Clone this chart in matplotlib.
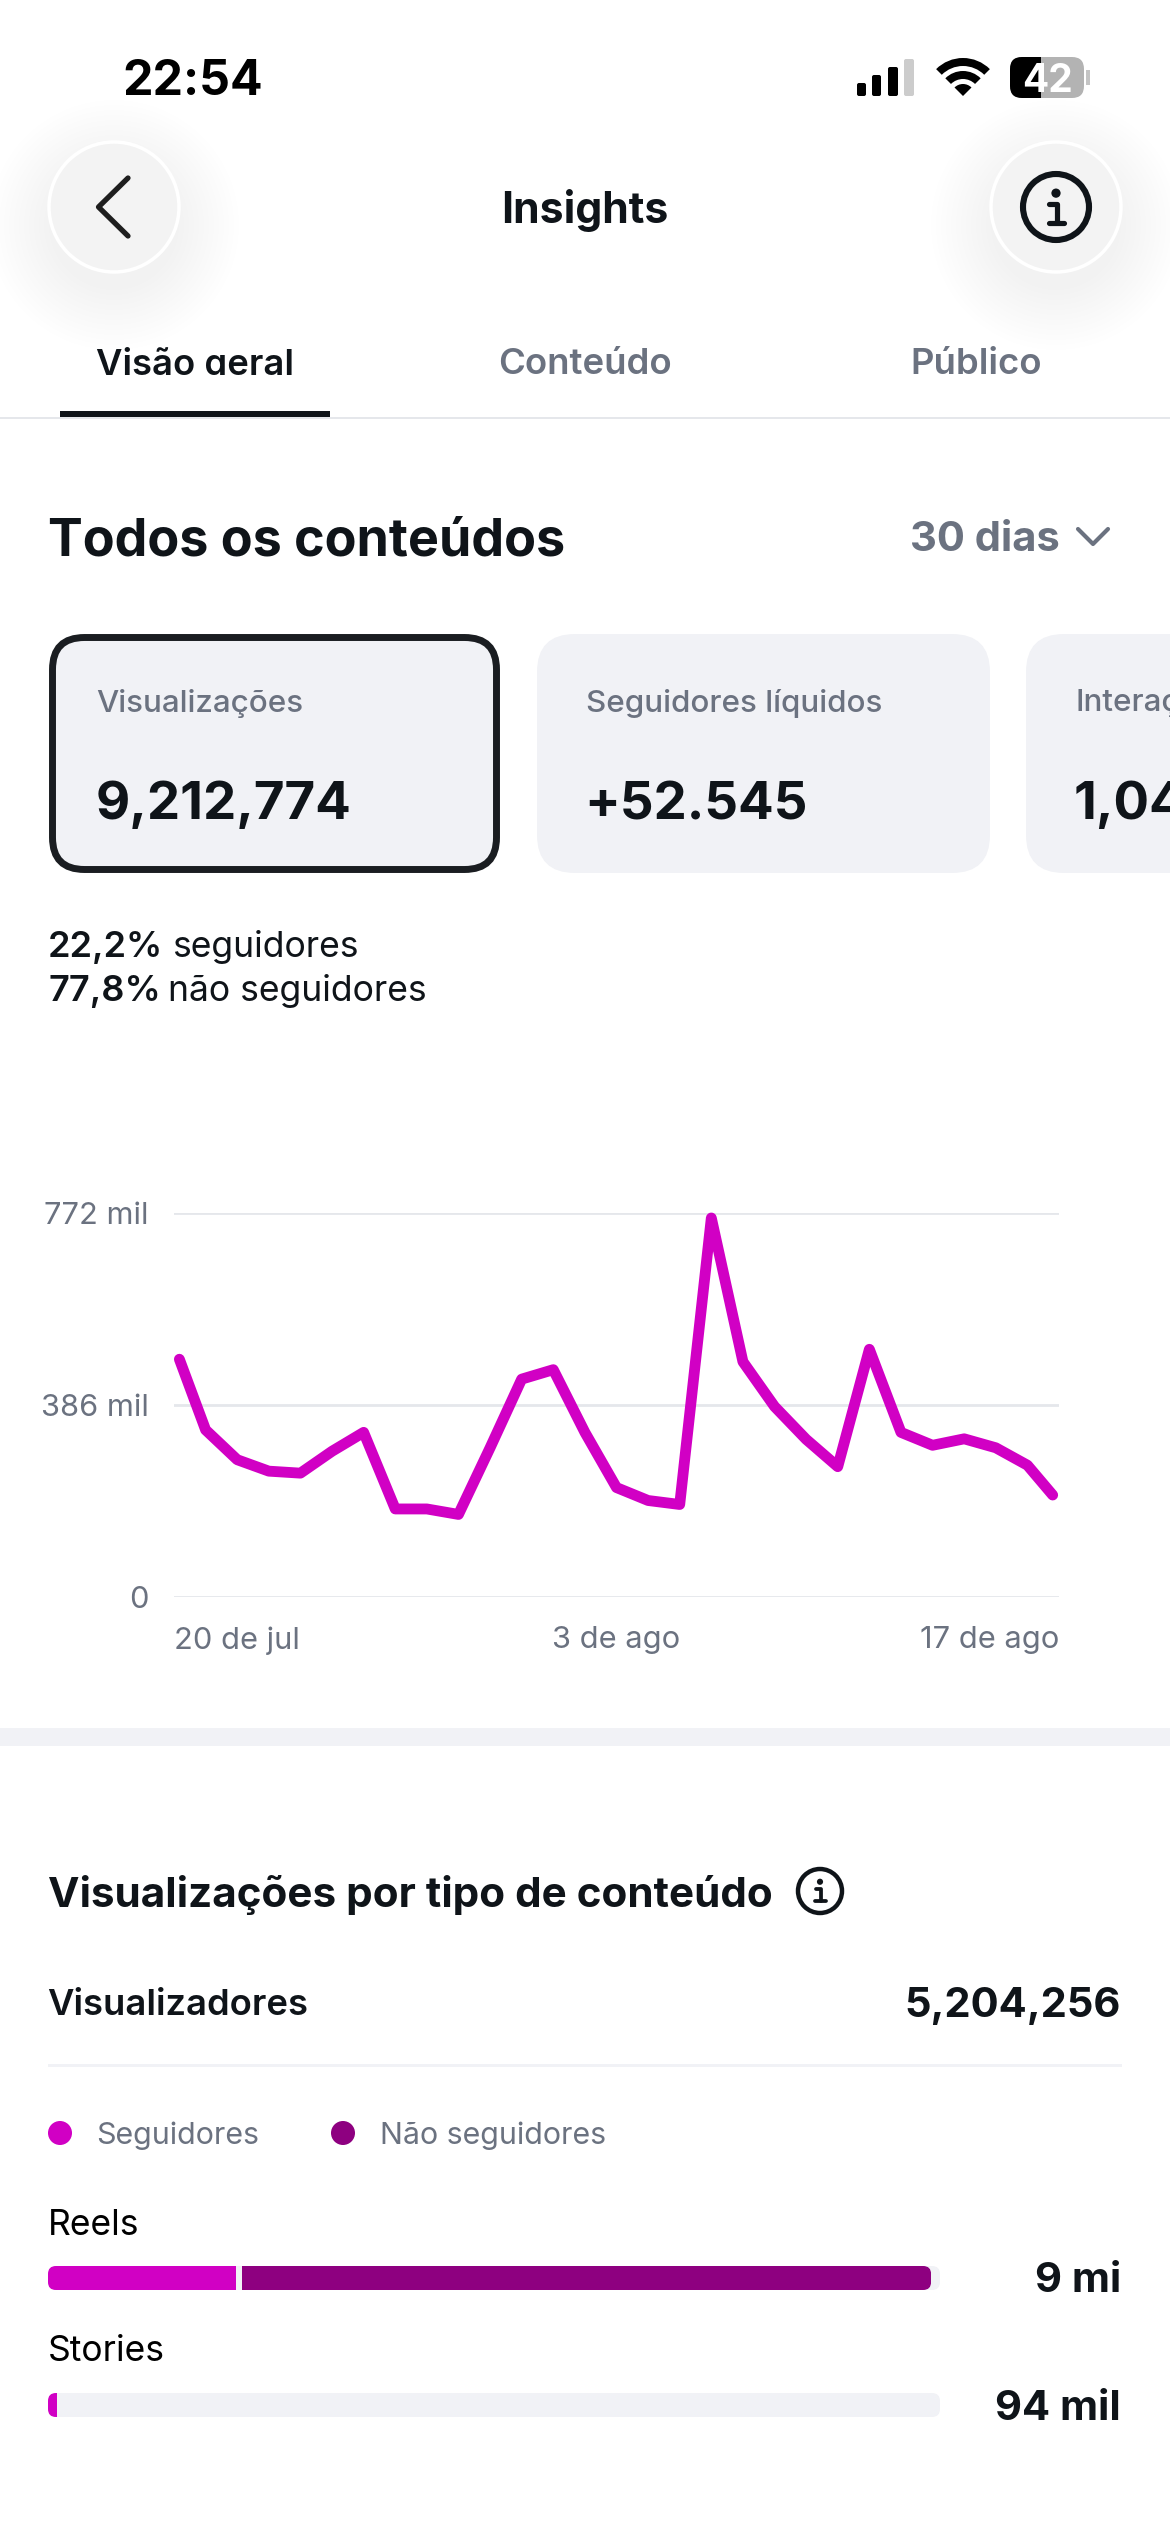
import matplotlib
matplotlib.use("Agg")
import matplotlib.pyplot as plt
from matplotlib.patches import Circle, FancyBboxPatch, Rectangle, Wedge

# --- Data ---
# the drawn line stops a little short of both axis ends, hence the first and last day
days = [0.17] + list(range(1, 28)) + [27.8]
views_k = [478, 336, 276, 253, 249, 293, 331, 177, 177, 166, 300, 438, 457, 331, 220,
           194, 186, 762, 473, 383, 317, 262, 498, 331, 305, 318, 300, 265, 205]
y_ticks = [0, 386, 772]
y_tick_labels = ["0", "386 mil", "772 mil"]
x_ticks = [0, 14, 28]
x_tick_labels = ["20 de jul", "3 de ago", "17 de ago"]

bar_names = ["Reels", "Stories"]
bar_followers = [21.1, 1.0]
bar_non_followers = [77.2, 0.0]
bar_totals = ["9 mi", "94 mil"]
legend_names = ["Seguidores", "Não seguidores"]

INK = "#0f1419"
GREY = "#6b7280"
LIGHT = "#f1f2f6"
RULE = "#e5e7eb"
MAGENTA = "#d100c4"
PURPLE = "#8e0080"

plt.rcParams["font.family"] = ["Inter", "DejaVu Sans"]

fig = plt.figure(figsize=(11.7, 25.32), dpi=100)

# page layer works in screenshot pixels
page = fig.add_axes([0, 0, 1, 1])
page.set_xlim(0, 1170)
page.set_ylim(2532, 0)
page.axis("off")


def label(x, y, s, size, color=INK, weight="normal", ha="left"):
    return page.text(x, y, s, fontsize=size, color=color, fontweight=weight, ha=ha, va="center_baseline")


def round_box(x, y, w, h, r, fc, ec="none", lw=0):
    p = FancyBboxPatch((x + r, y + r), w - 2 * r, h - 2 * r, boxstyle=f"round,pad={r},rounding_size={r}",
                       fc=fc, ec=ec, lw=lw)
    page.add_patch(p)
    return p


def info_icon(cx, cy, r, lw):
    page.add_patch(Circle((cx, cy), r, fc="none", ec=INK, lw=lw))
    page.add_patch(Circle((cx, cy - r * 0.42), r * 0.14, fc=INK, ec="none"))
    page.plot([cx - r * 0.2, cx + r * 0.03, cx + r * 0.03], [cy - r * 0.1, cy - r * 0.1, cy + r * 0.45],
              color=INK, lw=lw * 0.85, solid_capstyle="round", solid_joinstyle="round")
    page.plot([cx - r * 0.22, cx + r * 0.25], [cy + r * 0.47, cy + r * 0.47], color=INK, lw=lw * 0.85,
              solid_capstyle="round")


# --- Status bar ---
label(122, 77, "22:54", 34.8, "black", "bold")
for x0, x1, top, col in [(857, 866, 83, "black"), (872, 881, 75, "black"), (888, 898, 67, "black"),
                         (904, 914, 59, "#cccccc")]:
    page.add_patch(FancyBboxPatch((x0 + 2, top + 2), x1 - x0 - 4, 96 - top - 4, boxstyle="round,pad=2,rounding_size=2",
                                  fc=col, ec="none"))
page.add_patch(Wedge((963, 96), 38, 225, 315, width=8, fc="black", ec="none"))
page.add_patch(Wedge((963, 96), 25, 225, 315, width=8, fc="black", ec="none"))
page.add_patch(Wedge((963, 96), 12, 225, 315, fc="black", ec="none"))
page.add_patch(Rectangle((1086, 70), 4, 15, fc="#c4c4c4", ec="none"))
batt = round_box(1010, 57, 74, 41, 12, "#b3b3b3")
batt_dark = Rectangle((1010, 57), 31, 41, fc="black", ec="none")
page.add_patch(batt_dark)
batt_dark.set_clip_path(batt)
label(1047, 78, "42", 28, "white", "bold", ha="center")

# --- Header: soft shadows, buttons, title ---
for cx in (114, 1056):
    for rad in range(125, 64, -5):
        page.add_patch(Circle((cx, 225), rad, fc="black", ec="none", alpha=0.004))
    page.add_patch(Circle((cx, 207), 65, fc="#f3f3f3", ec="white", lw=2.5))
page.plot([128, 98.5, 128], [178, 207, 236], color="#1e1e1e", lw=3.8, solid_capstyle="round",
          solid_joinstyle="round")
info_icon(1056, 207, 33, 4.4)
label(585, 206, "Insights", 30.8, INK, "bold", ha="center")

# --- Tabs ---
tab = label(96, 361, "Visão geral", 26.2, INK, "semibold")
tab.set_clip_on(True)
tab.set_clip_path(Rectangle((0, 300), 1170, 75, transform=page.transData))
label(498, 361, "Conteúdo", 26.3, GREY, "semibold")
label(910, 361, "Público", 26.3, GREY, "semibold")
page.add_patch(Rectangle((60, 411), 270, 6, fc=INK, ec="none"))
page.add_patch(Rectangle((0, 417), 1170, 1.5, fc=RULE, ec="none"))

# --- Heading + cards ---
label(48, 536, "Todos os conteúdos", 37.5, INK, "bold")
label(1060, 536, "30 dias", 30, GREY, "bold", ha="right")
page.plot([1078, 1093, 1108], [529, 544, 529], color=GREY, lw=3, solid_capstyle="round", solid_joinstyle="round")

round_box(52.5, 637.5, 444, 232, 32, LIGHT, ec="#1a1d21", lw=5)
round_box(537, 634, 453, 239, 38, LIGHT)
round_box(1026, 634, 300, 239, 38, LIGHT)
label(96, 700, "Visualizações", 22.6, GREY, "medium")
label(96, 800, "9,212,774", 38, INK, "bold")
label(586, 700, "Seguidores líquidos", 22.6, GREY, "medium")
label(584, 800, "+52.545", 38, INK, "bold")
label(1075, 700, "Interações", 22.6, GREY, "medium")
label(1074, 800, "1,04", 38, INK, "bold")

label(48, 944, "22,2%", 26, INK, "semibold")
label(172, 944, "seguidores", 25.6, INK)
label(48, 988, "77,8%", 26, INK, "semibold")
label(168, 988, "não seguidores", 25.6, INK)

# --- Line chart ---
chart = fig.add_axes([174 / 1170, 1 - 1597 / 2532, (1059 - 174) / 1170, (1597 - 1213) / 2532])
chart.patch.set_alpha(0)
chart.plot(days, views_k, color=MAGENTA, lw=7.8, solid_joinstyle="round",
           solid_capstyle="round", clip_on=False, zorder=3)
chart.set_xlim(0, 28)
chart.set_ylim(0, 772)
chart.set_yticks(y_ticks, y_tick_labels)
chart.set_xticks(x_ticks, x_tick_labels)
chart.grid(axis="y", color=RULE, lw=2)
chart.grid(axis="x", visible=False)
chart.set_axisbelow(True)
for s in chart.spines.values():
    s.set_visible(False)
chart.tick_params(axis="both", length=0, labelsize=22.2, labelcolor=GREY)
chart.tick_params(axis="y", pad=18)
chart.tick_params(axis="x", pad=21)
xl = chart.get_xticklabels()
xl[0].set_ha("left")
xl[2].set_ha("right")

# --- Section break + breakdown ---
page.add_patch(Rectangle((0, 1728), 1170, 18, fc=LIGHT, ec="none"))
label(48, 1891, "Visualizações por tipo de conteúdo", 30.4, INK, "bold")
info_icon(820, 1891, 22, 3.2)
label(47, 2002, "Visualizadores", 26.2, INK, "semibold")
label(1121, 2002, "5,204,256", 30, INK, "bold", ha="right")
page.add_patch(Rectangle((48, 2064), 1074, 3, fc=LIGHT, ec="none"))

for dot_x, text_x, name, col in [(60, 96.5, legend_names[0], MAGENTA), (343, 379.5, legend_names[1], PURPLE)]:
    page.add_patch(Circle((dot_x, 2133), 12, fc=col, ec="none"))
    label(text_x, 2133, name, 21.9, GREY)

# bars share one scale, 0-100 % of the track
BAR_X, BAR_W, BAR_H, BAR_GAP = 48, 892, 24, 0.7
for i, (top, name_y) in enumerate([(2266, 2222), (2393, 2348)]):
    bar = fig.add_axes([BAR_X / 1170, 1 - (top + BAR_H) / 2532, BAR_W / 1170, BAR_H / 2532])
    bar.set_xlim(0, 100)
    bar.set_ylim(-0.5, 0.5)
    bar.axis("off")
    track_clip = round_box(BAR_X, top, BAR_W, BAR_H, 8, "none")
    for rect in bar.barh(0, 100, height=1, color=LIGHT):
        rect.set_clip_path(track_clip)
    for rect in bar.barh(0, bar_followers[i], height=1, color=MAGENTA):
        rect.set_clip_path(track_clip)
    if bar_non_followers[i] > 0:
        fill_end = bar_followers[i] + BAR_GAP + bar_non_followers[i]
        fill_clip = round_box(BAR_X, top, BAR_W * fill_end / 100, BAR_H, 8, "none")
        for rect in bar.barh(0, bar_non_followers[i], left=bar_followers[i] + BAR_GAP, height=1, color=PURPLE):
            rect.set_clip_path(fill_clip)
    label(48, name_y, bar_names[i], 25.5, "black")
    label(1121, top + 11.5, bar_totals[i], 30, INK, "bold", ha="right")

fig.savefig("out.png", dpi=100)
